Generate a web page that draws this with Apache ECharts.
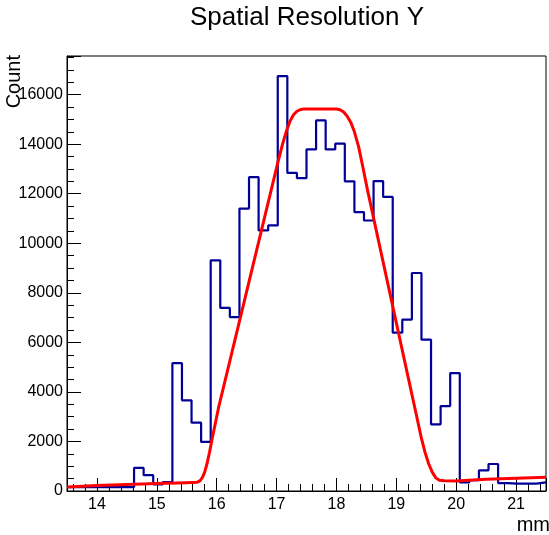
<!DOCTYPE html>
<html>
<head>
<meta charset="utf-8">
<script src="https://cdn.jsdelivr.net/npm/echarts@6/dist/echarts.min.js"></script>
<style>
html, body { margin: 0; padding: 0; background: #fff; }
#chart { width: 549px; height: 535px; }
</style>
</head>
<body>
<div id="chart"></div>
<script>
// histogram binning (mm)
var binLow = 13.5;
var binWidth = 0.16;
var counts = [
  160, 160, 160, 160, 160, 160, 160, 930, 640, 270,
  360, 5160, 3660, 2760, 1980, 9310, 7390, 7020, 11400, 12670,
  10520, 10720, 16750, 12840, 12630, 13790, 14960, 13790, 14020, 12500,
  11260, 10920, 12510, 11870, 6390, 6920, 8800, 6110, 2690, 3430,
  4760, 350, 440, 835, 1090, 320, 300, 300, 300, 350
];

// fit curve
var fitX = [13.5, 14.0, 14.5, 15.0, 15.5, 15.675, 15.72, 15.76, 15.80, 15.84,
  15.88, 15.93, 16.038, 16.204, 16.397, 16.70, 17.03, 17.10, 17.16, 17.22,
  17.28, 17.34, 17.40, 17.46, 17.7, 18.0, 18.06, 18.12, 18.18, 18.24,
  18.30, 18.37, 18.435, 18.52, 18.685, 18.85, 19.015, 19.18, 19.345, 19.42,
  19.48, 19.54, 19.60, 19.66, 19.72, 19.80, 20.0, 20.5, 21.0, 21.5];
var fitY = [165, 220, 265, 300, 335, 355, 410, 540, 760, 1120,
  1560, 2180, 3439, 5090, 7023, 10043, 13348, 14000, 14500, 14900,
  15180, 15330, 15400, 15420, 15420, 15420, 15390, 15300, 15130, 14880,
  14500, 13900, 13150, 12137, 10300, 8464, 6628, 4791, 2955, 2120,
  1560, 1100, 760, 530, 430, 410, 405, 470, 515, 560];

var xLabels = [14, 15, 16, 17, 18, 19, 20, 21];
var yLabels = [0, 2000, 4000, 6000, 8000, 10000, 12000, 14000, 16000];

var font = '"Liberation Sans", Arial, Helvetica, sans-serif';

var histPts = counts.map(function (c, i) {
  return [binLow + i * binWidth, c];
});
histPts.push([binLow + counts.length * binWidth, counts[counts.length - 1]]);

var fitPts = fitX.map(function (x, i) {
  return [x, fitY[i]];
});

var myChart = echarts.init(document.getElementById('chart'));

var option = {
  animation: false,
  backgroundColor: '#fff',
  grid: {
    left: 67,
    top: 56,
    width: 483,
    height: 435,
    show: true,
    borderColor: '#000',
    borderWidth: 1
  },
  xAxis: [{
    type: 'value',
    position: 'bottom',
    min: 13.5,
    max: 21.5,
    splitNumber: 8,
    minInterval: 1,
    maxInterval: 1,
    axisLine: { show: true, onZero: false, lineStyle: { color: '#000', width: 1 } },
    axisTick: { show: true, inside: true, length: 13, lineStyle: { color: '#000' } },
    axisLabel: {
      color: '#000',
      fontSize: 16,
      fontFamily: font,
      margin: 6,
      showMinLabel: true,
      showMaxLabel: true,
      formatter: function (v) {
        return xLabels.indexOf(Math.round(v * 100) / 100) >= 0 ? String(v) : '';
      }
    },
    splitLine: { show: false }
  }, {
    type: 'value',
    position: 'bottom',
    min: 13.5,
    max: 21.5,
    splitNumber: 40,
    minInterval: 0.2,
    maxInterval: 0.2,
    axisLine: { show: false, onZero: false },
    axisTick: { show: true, inside: true, length: 7, lineStyle: { color: '#000' } },
    axisLabel: { show: false },
    splitLine: { show: false }
  }],
  yAxis: [{
    type: 'value',
    position: 'left',
    min: 0,
    max: 17560,
    interval: 2000,
    axisLine: { show: true, onZero: false, lineStyle: { color: '#000', width: 1 } },
    axisTick: { show: true, inside: true, length: 14, lineStyle: { color: '#000' } },
    axisLabel: {
      color: '#000',
      fontSize: 16,
      fontFamily: font,
      margin: 4,
      formatter: function (v) {
        return yLabels.indexOf(v) >= 0 ? String(v) : '';
      }
    },
    splitLine: { show: false }
  }, {
    type: 'value',
    position: 'left',
    min: 0,
    max: 17560,
    interval: 500,
    axisLine: { show: false, onZero: false },
    axisTick: { show: true, inside: true, length: 7, lineStyle: { color: '#000' } },
    axisLabel: { show: false },
    splitLine: { show: false }
  }],
  graphic: [{
    type: 'text',
    x: 307,
    y: 18,
    style: {
      text: 'Spatial Resolution Y',
      font: '26px ' + font,
      fill: '#000',
      align: 'center', textAlign: 'center',
      verticalAlign: 'middle', textVerticalAlign: 'middle'
    }
  }, {
    type: 'text',
    x: 14,
    y: 55,
    rotation: Math.PI / 2,
    style: {
      text: 'Count',
      font: '20px ' + font,
      fill: '#000',
      align: 'right', textAlign: 'right',
      verticalAlign: 'middle', textVerticalAlign: 'middle'
    }
  }, {
    type: 'text',
    x: 550,
    y: 525,
    style: {
      text: 'mm',
      font: '20px ' + font,
      fill: '#000',
      align: 'right', textAlign: 'right',
      verticalAlign: 'middle', textVerticalAlign: 'middle'
    }
  }],
  series: [{
    name: 'hist',
    type: 'line',
    xAxisIndex: 0,
    yAxisIndex: 0,
    data: histPts,
    step: 'end',
    showSymbol: false,
    lineStyle: { color: '#000099', width: 2.2 },
    z: 2
  }, {
    name: 'fit',
    type: 'line',
    xAxisIndex: 0,
    yAxisIndex: 0,
    data: fitPts,
    smooth: false,
    showSymbol: false,
    lineStyle: { color: '#ff0000', width: 3, join: 'round' },
    z: 3
  }]
};

myChart.setOption(option);
window.addEventListener('resize', function () {
  myChart.resize();
});
</script>
</body>
</html>
